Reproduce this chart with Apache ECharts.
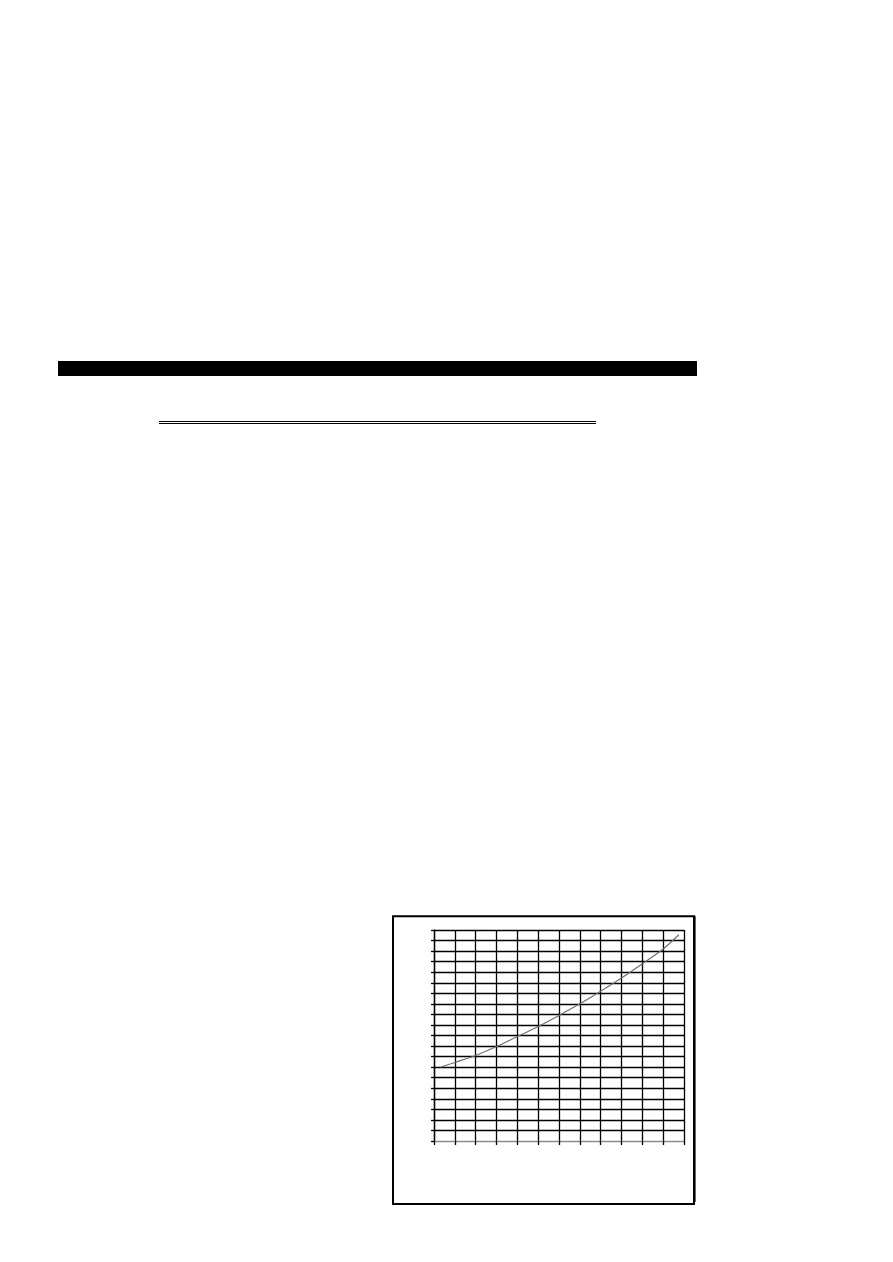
<!DOCTYPE html>
<html>
<head>
<meta charset="utf-8">
<script src="https://cdn.jsdelivr.net/npm/echarts@6/dist/echarts.min.js"></script>
<style>
  html, body { margin: 0; padding: 0; background: #fff; }
  #chart { width: 893px; height: 1262px; }
</style>
</head>
<body>
<div id="chart"></div>
<script>
// curve (x in grid columns, y in grid rows)
const xValues = [0.3, 1, 2, 3, 4, 5, 6, 7, 8, 9, 10, 11, 11.75];
const yValues = [7.0, 7.45, 8.1, 8.95, 9.9, 10.85, 11.9, 13.0, 14.2, 15.45, 16.8, 18.2, 19.55];

const xMin = 0, xMax = 12, xStep = 1;
const yMin = 0, yMax = 20, yStep = 1;

const chart = echarts.init(document.getElementById('chart'));

const option = {
  animation: false,
  backgroundColor: '#fff',
  grid: { left: 434, top: 930, width: 250, height: 211, containLabel: false },
  xAxis: {
    type: 'value',
    min: xMin, max: xMax, interval: xStep,
    axisLine: { show: true, lineStyle: { color: '#8c8c8c', width: 1.3 } },
    axisTick: { show: true, length: 4, lineStyle: { color: '#000', width: 1.3 } },
    axisLabel: { show: false },
    splitLine: { show: true, lineStyle: { color: '#000', width: 1.3 } }
  },
  yAxis: {
    type: 'value',
    min: yMin, max: yMax, interval: yStep,
    axisLine: { show: true, lineStyle: { color: '#000', width: 1.3 } },
    axisTick: { show: true, length: 3, lineStyle: { color: '#000', width: 1.3 } },
    axisLabel: { show: false },
    splitLine: { show: true, showMinLine: false, lineStyle: { color: '#000', width: 1.3 } }
  },
  series: [{
    type: 'line',
    data: xValues.map((x, i) => [x, yValues[i]]),
    smooth: 0.3,
    symbol: 'none',
    lineStyle: { color: '#6e6e6e', width: 1.1 },
    z: 5
  }],
  graphic: [
    // black band across the page
    { type: 'rect', shape: { x: 58, y: 361, width: 639, height: 15 }, style: { fill: '#000' } },
    // double rule
    { type: 'line', shape: { x1: 159, y1: 421.5, x2: 596, y2: 421.5 }, style: { stroke: '#000', lineWidth: 1 } },
    { type: 'line', shape: { x1: 159, y1: 423.5, x2: 596, y2: 423.5 }, style: { stroke: '#000', lineWidth: 1 } },
    // frame round the chart, right side a little heavier
    { type: 'rect', shape: { x: 393, y: 916.3, width: 301, height: 287.7 }, style: { fill: null, stroke: '#000', lineWidth: 2 } },
    { type: 'line', shape: { x1: 694.3, y1: 916, x2: 694.3, y2: 1202 }, style: { stroke: '#000', lineWidth: 2.6 } }
  ]
};

chart.setOption(option);
</script>
</body>
</html>
